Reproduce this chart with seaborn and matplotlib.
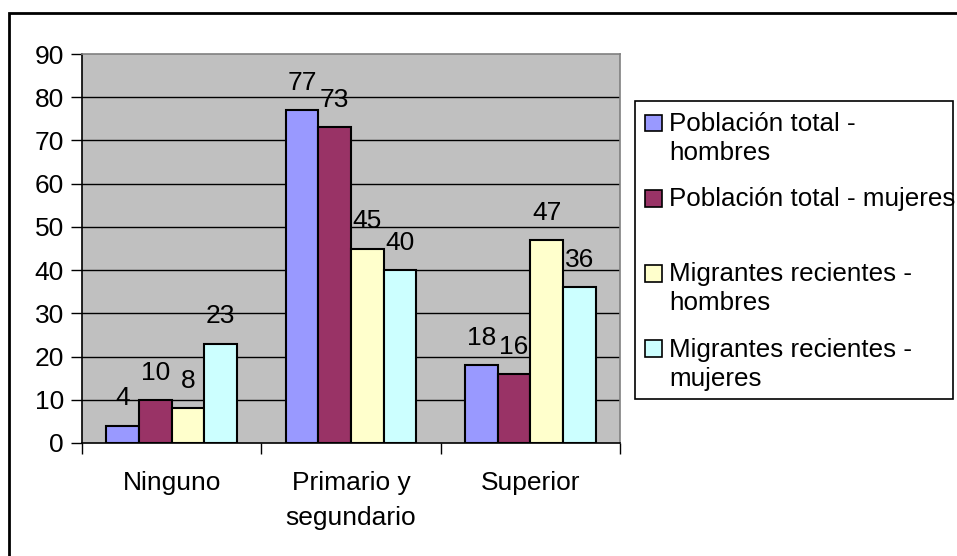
import numpy as np
import pandas as pd
import seaborn as sns
import matplotlib
matplotlib.use("Agg")
import matplotlib.pyplot as plt
from matplotlib.patches import Rectangle
from matplotlib.legend_handler import HandlerPatch

categories = ["Ninguno", "Primario y\nsegundario", "Superior"]
series = ["Población total -\nhombres", "Población total - mujeres\n",
          "Migrantes recientes -\nhombres", "Migrantes recientes -\nmujeres"]
pt_hombres = [4, 77, 18]
pt_mujeres = [10, 73, 16]
mr_hombres = [8, 45, 47]
mr_mujeres = [23, 40, 36]
colors = ["#9999FF", "#993366", "#FFFFCC", "#CCFFFF"]
yticks = [0, 10, 20, 30, 40, 50, 60, 70, 80, 90]

sns.set_theme(style="white")
plt.rcParams['font.family'] = ['Liberation Sans', 'DejaVu Sans']
plt.rcParams['text.color'] = 'black'
plt.rcParams['xtick.color'] = 'black'
plt.rcParams['ytick.color'] = 'black'
FS = 19
LFS = 18.7

values = [pt_hombres, pt_mujeres, mr_hombres, mr_mujeres]
rows = []
for s, vals in zip(series, values):
    for c, v in zip(categories, vals):
        rows.append({"cat": c, "serie": s, "val": v})
df = pd.DataFrame(rows)

fig = plt.figure(figsize=(9.57, 5.56), dpi=100)
ax = fig.add_axes([82/957, 1-443/556, (620-82)/957, (443-54)/556])
ax.set_facecolor("#C0C0C0")

sns.barplot(data=df, x="cat", y="val", hue="serie", order=categories,
            hue_order=series, palette=colors, saturation=1, width=4/5.5,
            edgecolor="black", linewidth=1.5, legend=False, ax=ax, zorder=3)

for cont in ax.containers:
    ax.bar_label(cont, fmt="%g", fontsize=FS, padding=11, color="black")

ax.set_ylim(0, 90)
ax.set_xlim(-0.5, 2.5)
ax.set_yticks(yticks)
ax.set_yticklabels([str(t) for t in yticks], fontsize=FS)
for t in yticks[1:-1]:
    ax.axhline(t, color="black", lw=1, zorder=1)

ax.set_xticks(range(3))
ax.set_xticklabels(categories, fontsize=FS, linespacing=1.6)
ax.set_xticks([-0.5, 0.5, 1.5, 2.5], minor=True)
ax.tick_params(axis="x", which="major", length=0, pad=20)
ax.tick_params(axis="x", which="minor", length=8, width=1, color="black", direction="out", bottom=True)
ax.tick_params(axis="y", length=8, width=1, color="black", direction="out", left=True, pad=5)
ax.set_xlabel("")
ax.set_ylabel("")
for side in ["left", "bottom"]:
    ax.spines[side].set_color("black")
    ax.spines[side].set_linewidth(1.2)
for side in ["top", "right"]:
    ax.spines[side].set_color("#808080")
    ax.spines[side].set_linewidth(1.2)
ax.spines["top"].set_zorder(4)

# figure border
fig.patches.append(Rectangle((9/957, -0.1), 1.1, 1 - 13/556 + 0.1, transform=fig.transFigure,
                             fill=False, edgecolor="black", lw=2, clip_on=False))
# legend frame
fig.patches.append(Rectangle((635/957, 1 - 399/556), (953 - 635)/957, (399 - 101)/556,
                             transform=fig.transFigure, facecolor="white",
                             edgecolor="black", lw=1.2, zorder=0))


def shifted_patch(legend, orig_handle, xdescent, ydescent, width, height, fontsize):
    return Rectangle((-xdescent, -ydescent + 0.6 * fontsize), width, height)


handles = [Rectangle((0, 0), 1, 1, facecolor=c, edgecolor="black", lw=1.2) for c in colors]
leg = fig.legend(handles, series, loc="upper left", bbox_to_anchor=(637/957, 1-104/556),
                 fontsize=LFS, frameon=False,
                 handlelength=0.65, handleheight=0.62, handletextpad=0.3,
                 labelspacing=0.86, borderpad=0.3, borderaxespad=0,
                 handler_map={Rectangle: HandlerPatch(patch_func=shifted_patch)})
for t in leg.get_texts():
    t.set_linespacing(1.26)

fig.savefig("out.png", dpi=100)
